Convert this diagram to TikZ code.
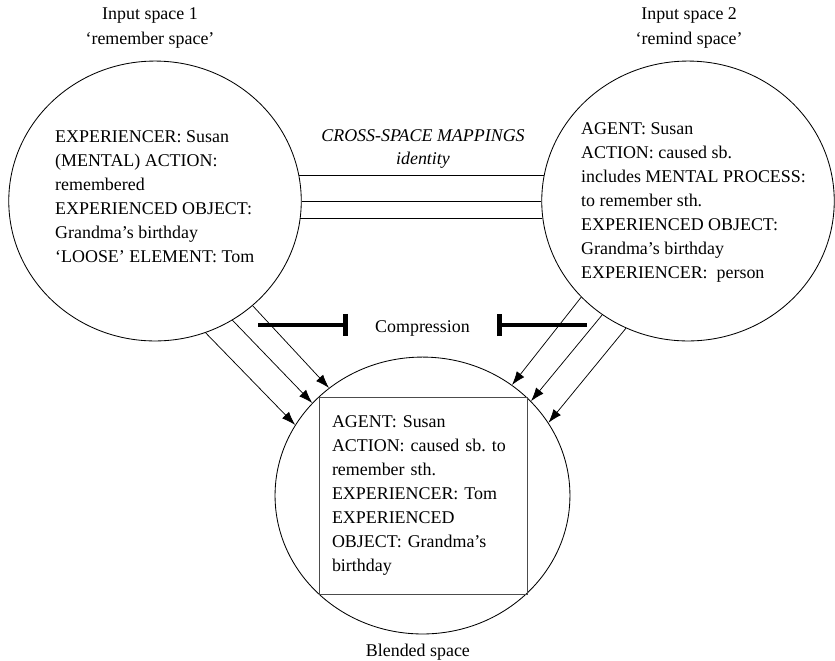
\documentclass[tikz,border=0pt]{standalone}
\usepackage{fontspec}
\setmainfont{Liberation Serif}
\usetikzlibrary{positioning,shapes.geometric,arrows.meta}
\frenchspacing

\begin{document}
\begin{tikzpicture}[
    font=\fontsize{17}{22.8}\selectfont,
    spacenode/.style={ellipse, draw, line width=0.8pt, minimum width=9.75cm, minimum height=9.33cm},
    spacetext/.style={align=left, inner sep=0pt, anchor=west},
    spacetitle/.style={align=center, inner sep=0pt},
    arrow/.style={-{Latex[length=13pt,width=9pt]}, line width=0.7pt},
    mapline/.style={line width=0.8pt},
    squeeze/.style={-{Bar[width=21pt]}, line width=4.3pt}
]
    \useasboundingbox (0,0) rectangle (27.833,-22.033);

    % Input spaces
    \node[spacetitle] (titleA) at (5.0,-0.933) {Input space 1\\`remember space'};
    \node[spacenode] (inA) at (5.167,-6.7) {};
    \node[spacetext] (textA) at (1.833,-6.567) {EXPERIENCER: Susan\\(MENTAL) ACTION:\\remembered\\EXPERIENCED OBJECT:\\Grandma's birthday\\`LOOSE' ELEMENT: Tom};

    \node[spacetitle] (titleB) at (22.97,-0.933) {Input space 2\\`remind space'};
    \node[spacenode] (inB) at (22.933,-6.7) {};
    \node[spacetext] (textB) at (19.367,-6.75) {AGENT: Susan\\ACTION: caused sb.\\includes MENTAL PROCESS:\\to remember sth.\\EXPERIENCED OBJECT:\\Grandma's birthday\\EXPERIENCER:~ person};

    % Blended space
    \node[spacenode, minimum width=9.83cm, minimum height=9.23cm] (blend) at (14.083,-16.517) {};
    \node[draw=black!70, line width=0.8pt, align=left, text width=6.067cm, inner xsep=0.433cm, minimum height=6.567cm] (blendbox) at (14.1,-16.517) {AGENT: Susan\\ACTION: caused sb. to\\remember sth.\\EXPERIENCER: Tom\\EXPERIENCED\\OBJECT: Grandma's\\birthday};
    \node[spacetitle, anchor=base] (titleC) at (13.93,-21.867) {Blended space};

    % Cross-space mappings
    \node[spacetitle, font=\fontsize{17}{21}\selectfont\itshape] (cross) at (14.1,-4.967) {CROSS-SPACE MAPPINGS\\identity};
    \draw[mapline] (inA.10) -- (inA.10 -| inB.170);
    \draw[mapline] (inA.east) -- (inB.west);
    \draw[mapline] (inA.353.75) -- (inA.353.75 -| inB.186.25);

    % Compression
    \node[inner sep=0pt, minimum width=4.967cm, text height=0.467cm, text depth=0pt] (cmp) at (14.083,-10.833) {Compression};
    \coordinate (cmpL) at (8.6,-10.833);
    \coordinate (cmpR) at (19.567,-10.833);
    \draw[squeeze] (cmpL) -- (cmp.west);
    \draw[squeeze] (cmpR) -- (cmp.east);

    % Projections
    \draw[arrow] (inA.291.7) -- (blend.151.1);
    \draw[arrow] (inA.303) -- (blend.140.3);
    \draw[arrow] (inA.313) -- (blend.131.6);
    \draw[arrow] (inB.222.7) -- (blend.51.7);
    \draw[arrow] (inB.233.5) -- (blend.41.1);
    \draw[arrow] (inB.244.7) -- (blend.30.6);
\end{tikzpicture}
\end{document}
